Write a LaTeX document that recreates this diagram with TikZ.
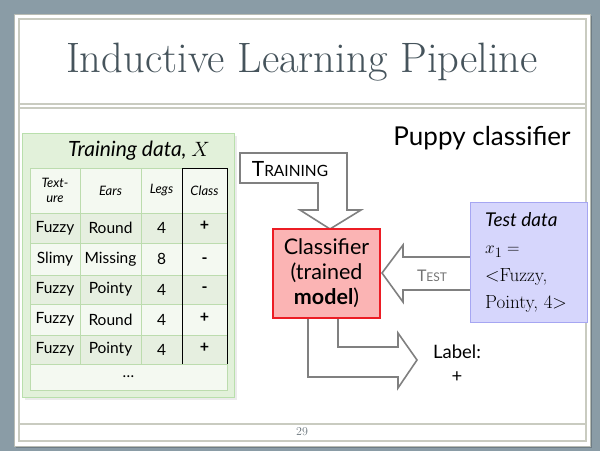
\documentclass[tikz,border=0pt]{standalone}
\usepackage{fontspec}
\setsansfont{Lato}
\definecolor{bgslate}{HTML}{8A9CA6}
\definecolor{slideedge}{HTML}{B8BCB4}
\definecolor{frameline}{HTML}{C9CBC0}
\definecolor{titlecol}{HTML}{46545C}
\definecolor{greenfill}{HTML}{E2F1DA}
\definecolor{greenedge}{HTML}{B9DFAC}
\definecolor{rowdark}{HTML}{E6EFE0}
\definecolor{rowlight}{HTML}{F4F9F1}
\definecolor{gridline}{HTML}{BCDCAE}
\definecolor{clsfill}{HTML}{FBB4B4}
\definecolor{clsedge}{HTML}{EC1C24}
\definecolor{testfill}{HTML}{D6D6FC}
\definecolor{testedge}{HTML}{A6A6F2}
\definecolor{arrowcol}{HTML}{808080}
\tikzset{
  txt/.style={inner sep=0pt, outer sep=0pt, font=\sffamily\fontsize{15.5}{17}\selectfont},
  hdr/.style={inner sep=0pt, outer sep=0pt, font=\sffamily\itshape\fontsize{13}{15}\selectfont, align=center},
  blockarrow/.style={draw=arrowcol, line width=1.6pt, fill=white, line join=miter},
}
\begin{document}
\begin{tikzpicture}[x=1pt,y=-1pt]
\useasboundingbox (0,0) rectangle (600,451);
\fill[bgslate] (0,0) rectangle (600,451);
% slide
\fill[black, opacity=0.2] (16,16) rectangle (592,448);
\draw[slideedge, fill=white, line width=1pt] (14,14) rectangle (590,446);
\draw[frameline, line width=1.6pt] (19,19) rectangle (586,441);
\draw[frameline, line width=1.6pt] (19,104) -- (586,104);
\draw[frameline, line width=1.6pt] (19,108) -- (586,108);
\draw[frameline, line width=1.6pt] (19,424) -- (586,424);
\node[inner sep=0pt, text=titlecol, font=\fontsize{42.5}{44}\selectfont] (title) at (302,62) {Inductive Learning Pipeline};
\node[inner sep=0pt, text=titlecol!80, font=\fontsize{12}{12}\selectfont] (pagenum) at (302,432) {29};

% training data box
\fill[black, opacity=0.08] (25,136) rectangle (237,400);
\draw[greenedge, fill=greenfill, line width=1pt] (22,133) rectangle (234,397);
\node[inner sep=0pt, font=\sffamily\itshape\fontsize{21}{22}\selectfont] (trtitle) at (139,151) {Training data, $X$};
% table fills
\fill[rowlight] (30,168) rectangle (227,213);
\fill[rowdark] (30,213) rectangle (227,243);
\fill[rowlight] (30,243) rectangle (227,275);
\fill[rowdark] (30,275) rectangle (227,304);
\fill[rowlight] (30,304) rectangle (227,335);
\fill[rowdark] (30,335) rectangle (227,364);
\fill[rowlight] (30,364) rectangle (227,390);
\begin{scope}[gridline, line width=0.9pt]
\draw (30,168) rectangle (227,390);
\foreach \yy in {213,243,275,304,335,364} \draw (30,\yy) -- (227,\yy);
\foreach \xx in {80,141} \draw (\xx,168) -- (\xx,364);
\end{scope}
\draw[black, line width=0.9pt] (182,364) -- (182,168) -- (227,168) -- (227,364);
% header
\node[hdr] (h1) at (55,190.5) {Text-\\ure};
\node[hdr] (h2) at (110.5,190.5) {Ears};
\node[hdr] (h3) at (161.5,190.5) {Legs};
\node[hdr] (h4) at (204.5,190.5) {Class};
% rows
\node[txt] (r1a) at (55,228) {Fuzzy};
\node[txt] (r1b) at (110.5,228) {Round};
\node[txt] (r1c) at (161.5,228) {4};
\node[txt, font=\sffamily\bfseries\fontsize{16}{17}\selectfont] (r1d) at (204.5,226) {+};
\node[txt] (r2a) at (55,259) {Slimy};
\node[txt] (r2b) at (110.5,259) {Missing};
\node[txt] (r2c) at (161.5,259) {8};
\node[txt, font=\sffamily\bfseries\fontsize{16}{17}\selectfont] (r2d) at (204.5,261) {-};
\node[txt] (r3a) at (55,289.5) {Fuzzy};
\node[txt] (r3b) at (110.5,289.5) {Pointy};
\node[txt] (r3c) at (161.5,289.5) {4};
\node[txt, font=\sffamily\bfseries\fontsize{16}{17}\selectfont] (r3d) at (204.5,290) {-};
\node[txt] (r4a) at (55,319.5) {Fuzzy};
\node[txt] (r4b) at (110.5,319.5) {Round};
\node[txt] (r4c) at (161.5,319.5) {4};
\node[txt, font=\sffamily\bfseries\fontsize{16}{17}\selectfont] (r4d) at (204.5,318) {+};
\node[txt] (r5a) at (55,349.5) {Fuzzy};
\node[txt] (r5b) at (110.5,349.5) {Pointy};
\node[txt] (r5c) at (161.5,349.5) {4};
\node[txt, font=\sffamily\bfseries\fontsize{16}{17}\selectfont] (r5d) at (204.5,348) {+};
\node[txt] (dots) at (128.5,377) {\ldots};

% puppy classifier
\node[inner sep=0pt, font=\sffamily\fontsize{26}{28}\selectfont] (puppy) at (482,138) {Puppy classifier};

% training arrow
\draw[blockarrow] (240,153) -- (347,153) -- (347,210) -- (361,210) -- (330,229) -- (300,210) -- (318,210) -- (318,183) -- (240,183) -- cycle;
\node[inner sep=0pt, font=\sffamily\fontsize{21}{22}\selectfont] (trlabel) at (290,169) {T\fontsize{15.5}{16}\selectfont RAINING};

% output arrow (behind classifier)
\draw[blockarrow] (308,312) -- (308,377) -- (398,377) -- (398,388) -- (417,360) -- (398,333) -- (398,347) -- (338,347) -- (338,312);

% test arrow
\draw[blockarrow] (382,273) -- (403,245) -- (403,257) -- (475,257) -- (475,290) -- (403,290) -- (403,302) -- cycle;
\node[inner sep=0pt, text=black!55, font=\sffamily\fontsize{16}{16}\selectfont] (testlabel) at (432,276) {T\fontsize{12}{12}\selectfont EST};

% classifier
\node[draw=clsedge, fill=clsfill, line width=1.6pt, minimum width=107, minimum height=89, inner sep=0pt, align=center, font=\sffamily\fontsize{21.5}{25}\selectfont] (cls) at (326.5,273.5) {Classifier\\(trained\\{\fontseries{b}\selectfont model})};

% test data
\draw[testedge, fill=testfill, line width=1pt] (470,202) rectangle (587,322);
\node[inner sep=0pt, anchor=north west, align=left, font=\fontsize{19}{27.5}\selectfont] (testdata) at (485,212) {{\sffamily\itshape Test data}\\$x_1=$\\\textless Fuzzy,\\Pointy, 4\textgreater};

% label
\node[inner sep=0pt, align=center, font=\sffamily\fontsize{18.5}{24}\selectfont] (lbl) at (457,364) {Label:\\+};
\end{tikzpicture}
\end{document}
